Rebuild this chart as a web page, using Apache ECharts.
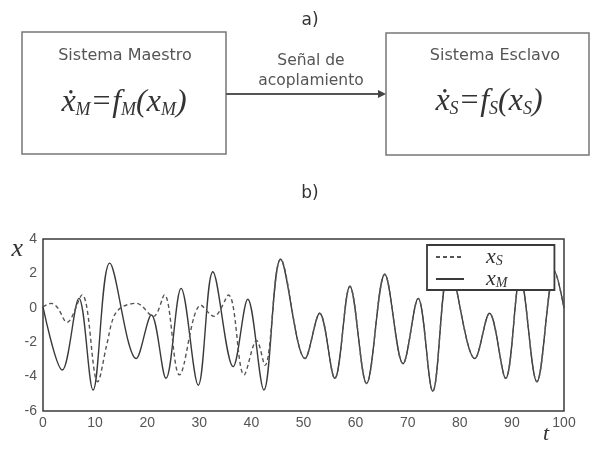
<!DOCTYPE html>
<html>
<head>
<meta charset="utf-8">
<script src="https://cdn.jsdelivr.net/npm/echarts@6/dist/echarts.min.js"></script>
<style>
html,body{margin:0;padding:0;background:#fff;}
#c{width:592px;height:451px;}
</style>
</head>
<body>
<div id="c"></div>
<script>
// ---- data ----
var tMaster = [0, 3.7, 6.9, 9.6, 12.8, 17.9, 20.8, 23.6, 26.5, 29.8, 32.6, 36.5, 39.3, 42.4, 45.6,
  50.3, 53.1, 56.0, 58.9, 62.1, 65.6, 69.1, 72.0, 74.8, 78.0, 82.9, 85.7, 88.8, 91.6, 94.8, 98.2, 100];
var xMaster = [0.05, -3.62, 0.55, -4.78, 2.6, -2.95, -0.42, -4.1, 1.13, -4.5, 2.1, -3.42, 0.5, -4.78, 2.82,
  -2.95, -0.32, -4.1, 1.25, -4.4, 1.95, -3.25, 0.55, -4.85, 2.4, -2.95, -0.32, -4.1, 1.8, -4.3, 2.1, 0.0];
var tSlave = [0, 1.6, 2.8, 4.6, 7.5, 10.5, 12.2, 13.6, 15.2, 17.9, 21.2, 23.3, 26.2, 30.3, 32.8, 35.6,
  38.6, 41.0, 42.6, 45.6, 50.3, 53.1, 56.0, 58.9, 62.1, 65.6, 69.1, 72.0, 74.8, 78.0, 82.9, 85.7, 88.8, 91.6, 94.8, 98.2, 100];
var xSlave = [0.05, 0.26, 0.0, -0.85, 0.75, -4.3, -2.2, -0.5, 0.05, 0.26, -0.5, 0.75, -3.9, 0.15, -0.5, 0.74,
  -3.9, -1.9, -3.35, 2.82, -2.95, -0.32, -4.1, 1.25, -4.4, 1.95, -3.25, 0.55, -4.85, 2.4, -2.95, -0.32, -4.1, 1.8, -4.3, 2.1, 0.0];
var seriesNames = ['xS', 'xM'];
var subLetters = {xS: 'S', xM: 'M'};
var xTicks = {min: 0, max: 100, interval: 10};
var yTicks = {min: -6, max: 4, interval: 2};
var axisNames = {x: 't', y: 'x'};
var boxTitles = ['Sistema Maestro', 'Sistema Esclavo'];
var arrowLabel = ['Señal de', 'acoplamiento'];
var panelLabels = ['a)', 'b)'];

function pairs(t, v) { return t.map(function (tt, i) { return [tt, v[i]]; }); }

var sansFont = "'DejaVu Sans', 'Liberation Sans', sans-serif";
var serifFont = "'Liberation Serif', 'DejaVu Serif', serif";
var eqRich = {
  a: {fontFamily: serifFont, fontStyle: 'italic', fontSize: 32, fill: '#333', lineHeight: 36, verticalAlign: 'bottom'},
  s: {fontFamily: serifFont, fontStyle: 'italic', fontSize: 18, fill: '#333', lineHeight: 2, verticalAlign: 'bottom'}
};
function eq(sub) {
  return '{a|ẋ}{s|' + sub + '}{a|=}{a|f}{s|' + sub + '}{a|(x}{s|' + sub + '}{a|)}';
}

var chart = echarts.init(document.getElementById('c'), null, {renderer: 'canvas'});
chart.setOption({
  backgroundColor: '#fff',
  animation: false,
  grid: {left: 43, top: 239, right: 28, bottom: 40, show: true, borderColor: '#3a3a3a', borderWidth: 1.5, backgroundColor: 'transparent'},
  xAxis: {
    type: 'value', min: xTicks.min, max: xTicks.max, interval: xTicks.interval,
    axisLine: {show: false}, axisTick: {show: false}, splitLine: {show: false},
    axisLabel: {color: '#555', fontFamily: "'Liberation Sans', Arial, sans-serif", fontSize: 14, margin: 5}
  },
  yAxis: {
    type: 'value', min: yTicks.min, max: yTicks.max, interval: yTicks.interval,
    axisLine: {show: false}, axisTick: {show: false}, splitLine: {show: false},
    axisLabel: {color: '#555', fontFamily: "'Liberation Sans', Arial, sans-serif", fontSize: 14, margin: 6},
    name: axisNames.y, nameLocation: 'end', nameGap: -10,
    nameTextStyle: {fontFamily: serifFont, fontStyle: 'italic', fontSize: 26, color: '#333', align: 'right', verticalAlign: 'middle', padding: [0, 20, 0, 0]}
  },
  legend: {
    orient: 'vertical', left: 427, top: 245,
    data: seriesNames,
    itemWidth: 28, itemHeight: 14, itemGap: 0,
    padding: [1, 47, 0, 8],
    backgroundColor: '#fff', borderColor: '#3a3a3a', borderWidth: 1.8,
    itemStyle: {opacity: 0},
    formatter: function (n) { return '{x|x}{s|' + subLetters[n] + '}'; },
    textStyle: {
      padding: [0, 0, 0, 17],
      rich: {
        x: {fontFamily: serifFont, fontStyle: 'italic', fontSize: 22, color: '#333', lineHeight: 22, verticalAlign: 'bottom'},
        s: {fontFamily: serifFont, fontStyle: 'italic', fontSize: 14, color: '#333', lineHeight: 6, verticalAlign: 'bottom'}
      }
    }
  },
  series: [
    {name: 'xS', type: 'line', data: pairs(tSlave, xSlave), smooth: 0.35, symbol: 'none', showSymbol: false,
      lineStyle: {color: '#555', width: 1.4, type: [4, 3]}, itemStyle: {color: '#555'}, z: 3},
    {name: 'xM', type: 'line', data: pairs(tMaster, xMaster), smooth: 0.35, symbol: 'none', showSymbol: false,
      lineStyle: {color: '#3a3a3a', width: 1.4}, itemStyle: {color: '#3a3a3a'}, z: 2}
  ],
  graphic: [
    {type: 'rect', shape: {x: 22, y: 32, width: 204, height: 122}, style: {fill: '#fff', stroke: '#777', lineWidth: 1.5}},
    {type: 'rect', shape: {x: 386, y: 33, width: 203, height: 122}, style: {fill: '#fff', stroke: '#777', lineWidth: 1.5}},
    {type: 'line', shape: {x1: 226, y1: 94, x2: 380, y2: 94}, style: {stroke: '#555', lineWidth: 2.2}},
    {type: 'polygon', shape: {points: [[378, 90], [386, 94], [378, 98]]}, style: {fill: '#444'}},
    {type: 'text', x: 125, y: 56, style: {text: boxTitles[0], font: '16px ' + sansFont, fill: '#555', align: 'center', verticalAlign: 'middle'}},
    {type: 'text', x: 495, y: 56, style: {text: boxTitles[1], font: '16px ' + sansFont, fill: '#555', align: 'center', verticalAlign: 'middle'}},
    {type: 'text', x: 311, y: 61, style: {text: arrowLabel[0], font: '15.5px ' + sansFont, fill: '#555', align: 'center', verticalAlign: 'middle'}},
    {type: 'text', x: 311, y: 81, style: {text: arrowLabel[1], font: '15.5px ' + sansFont, fill: '#555', align: 'center', verticalAlign: 'middle'}},
    {type: 'text', x: 310, y: 21, style: {text: panelLabels[0], font: '17px ' + sansFont, fill: '#333', align: 'center', verticalAlign: 'middle'}},
    {type: 'text', x: 310, y: 194, style: {text: panelLabels[1], font: '17px ' + sansFont, fill: '#333', align: 'center', verticalAlign: 'middle'}},
    {type: 'text', x: 124, y: 101, style: {text: eq('M'), rich: eqRich, align: 'center', verticalAlign: 'middle'}},
    {type: 'text', x: 489, y: 100, style: {text: eq('S'), rich: eqRich, align: 'center', verticalAlign: 'middle'}},
    {type: 'text', x: 546, y: 434, style: {text: axisNames.x, font: 'italic 22px ' + serifFont, fill: '#333', align: 'center', verticalAlign: 'middle'}}
  ]
});
</script>
</body>
</html>
